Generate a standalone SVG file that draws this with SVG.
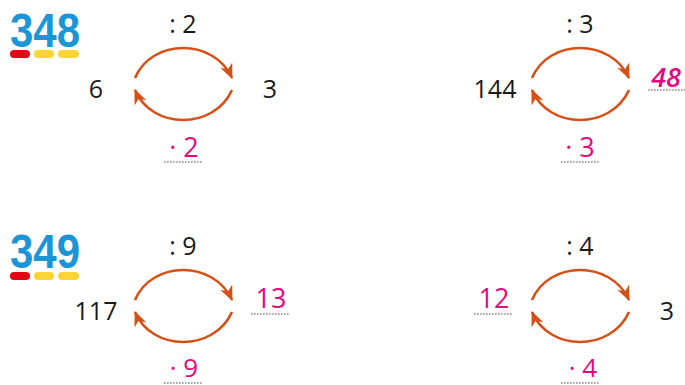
<svg xmlns="http://www.w3.org/2000/svg" width="685" height="385" viewBox="0 0 685 385">
<style>
.num{font-family:"Open Sans","Noto Sans",sans-serif;font-size:25px;fill:#1a1a1a;text-anchor:middle}
.ans{font-family:"Open Sans","Noto Sans",sans-serif;font-size:27px;fill:#e5097f;text-anchor:middle}
.low{font-size:26px}
.it{font-style:italic;font-weight:600}
.logo{font-family:"Liberation Sans",Arial,sans-serif;font-weight:bold;font-size:49px;fill:#1b95d6}
.arc{fill:none;stroke:#d64f15;stroke-width:2.6;marker-end:url(#ah)}
.dot{stroke:#8a8a8a;stroke-width:1.5;stroke-dasharray:1.6 1.4}
.red{fill:#e30613}.yel{fill:#fdd435}
</style>
<defs>
<marker id="ah" viewBox="0 0 15 13" refX="14" refY="6.5" markerWidth="15" markerHeight="13" markerUnits="userSpaceOnUse" orient="auto">
<path d="M0,0 L15,6.5 L0,13 L4.5,6.5 z" fill="#d64f15"/>
</marker>
<g id="arcs">
<path class="arc" d="M135,78 C152,38 214,38 232,78"/>
<path class="arc" d="M232,90 C214,130 152,130 135,90"/>
</g>
</defs>
<g id="logo348">
<text class="logo" x="10" y="47" textLength="70" lengthAdjust="spacingAndGlyphs">348</text>
<rect class="red" x="10" y="50" width="20" height="8" rx="4"/>
<rect class="yel" x="34" y="50" width="20" height="8" rx="4"/>
<rect class="yel" x="58" y="50" width="21" height="8" rx="4"/>
</g>
<g id="logo349">
<text class="logo" x="10" y="268" textLength="70" lengthAdjust="spacingAndGlyphs">349</text>
<rect class="red" x="10" y="272" width="20" height="8" rx="4"/>
<rect class="yel" x="34" y="272" width="20" height="8" rx="4"/>
<rect class="yel" x="58" y="272" width="21" height="8" rx="4"/>
</g>
<g id="connectors">
<use href="#arcs"/>
<use href="#arcs" transform="translate(397,0)"/>
<use href="#arcs" transform="translate(0,222)"/>
<use href="#arcs" transform="translate(397,222)"/>
</g>
<g id="p1">
<text class="num" x="183" y="33">: 2</text>
<text class="num" x="96" y="98">6</text>
<text class="num" x="270" y="98">3</text>
<text class="ans" x="184" y="157">· 2</text>
<line class="dot" x1="164" y1="162" x2="202" y2="162"/>
</g>
<g id="p2">
<text class="num" x="580" y="33">: 3</text>
<text class="num" x="495" y="98">144</text>
<text class="ans it" x="666" y="87">48</text>
<line class="dot" x1="648" y1="90" x2="685" y2="90"/>
<text class="ans" x="580" y="157">· 3</text>
<line class="dot" x1="561" y1="162" x2="600" y2="162"/>
</g>
<g id="p3">
<text class="num" x="183" y="255">: 9</text>
<text class="num" x="96" y="320">117</text>
<text class="ans" x="271" y="308">13</text>
<line class="dot" x1="251" y1="314" x2="289" y2="314"/>
<text class="ans low" x="184" y="377">· 9</text>
<line class="dot" x1="164" y1="383" x2="202" y2="383"/>
</g>
<g id="p4">
<text class="num" x="580" y="255">: 4</text>
<text class="ans" x="494" y="308">12</text>
<line class="dot" x1="474" y1="314" x2="513" y2="314"/>
<text class="num" x="667" y="320">3</text>
<text class="ans low" x="583" y="377">· 4</text>
<line class="dot" x1="561" y1="383" x2="600" y2="383"/>
</g>
</svg>
